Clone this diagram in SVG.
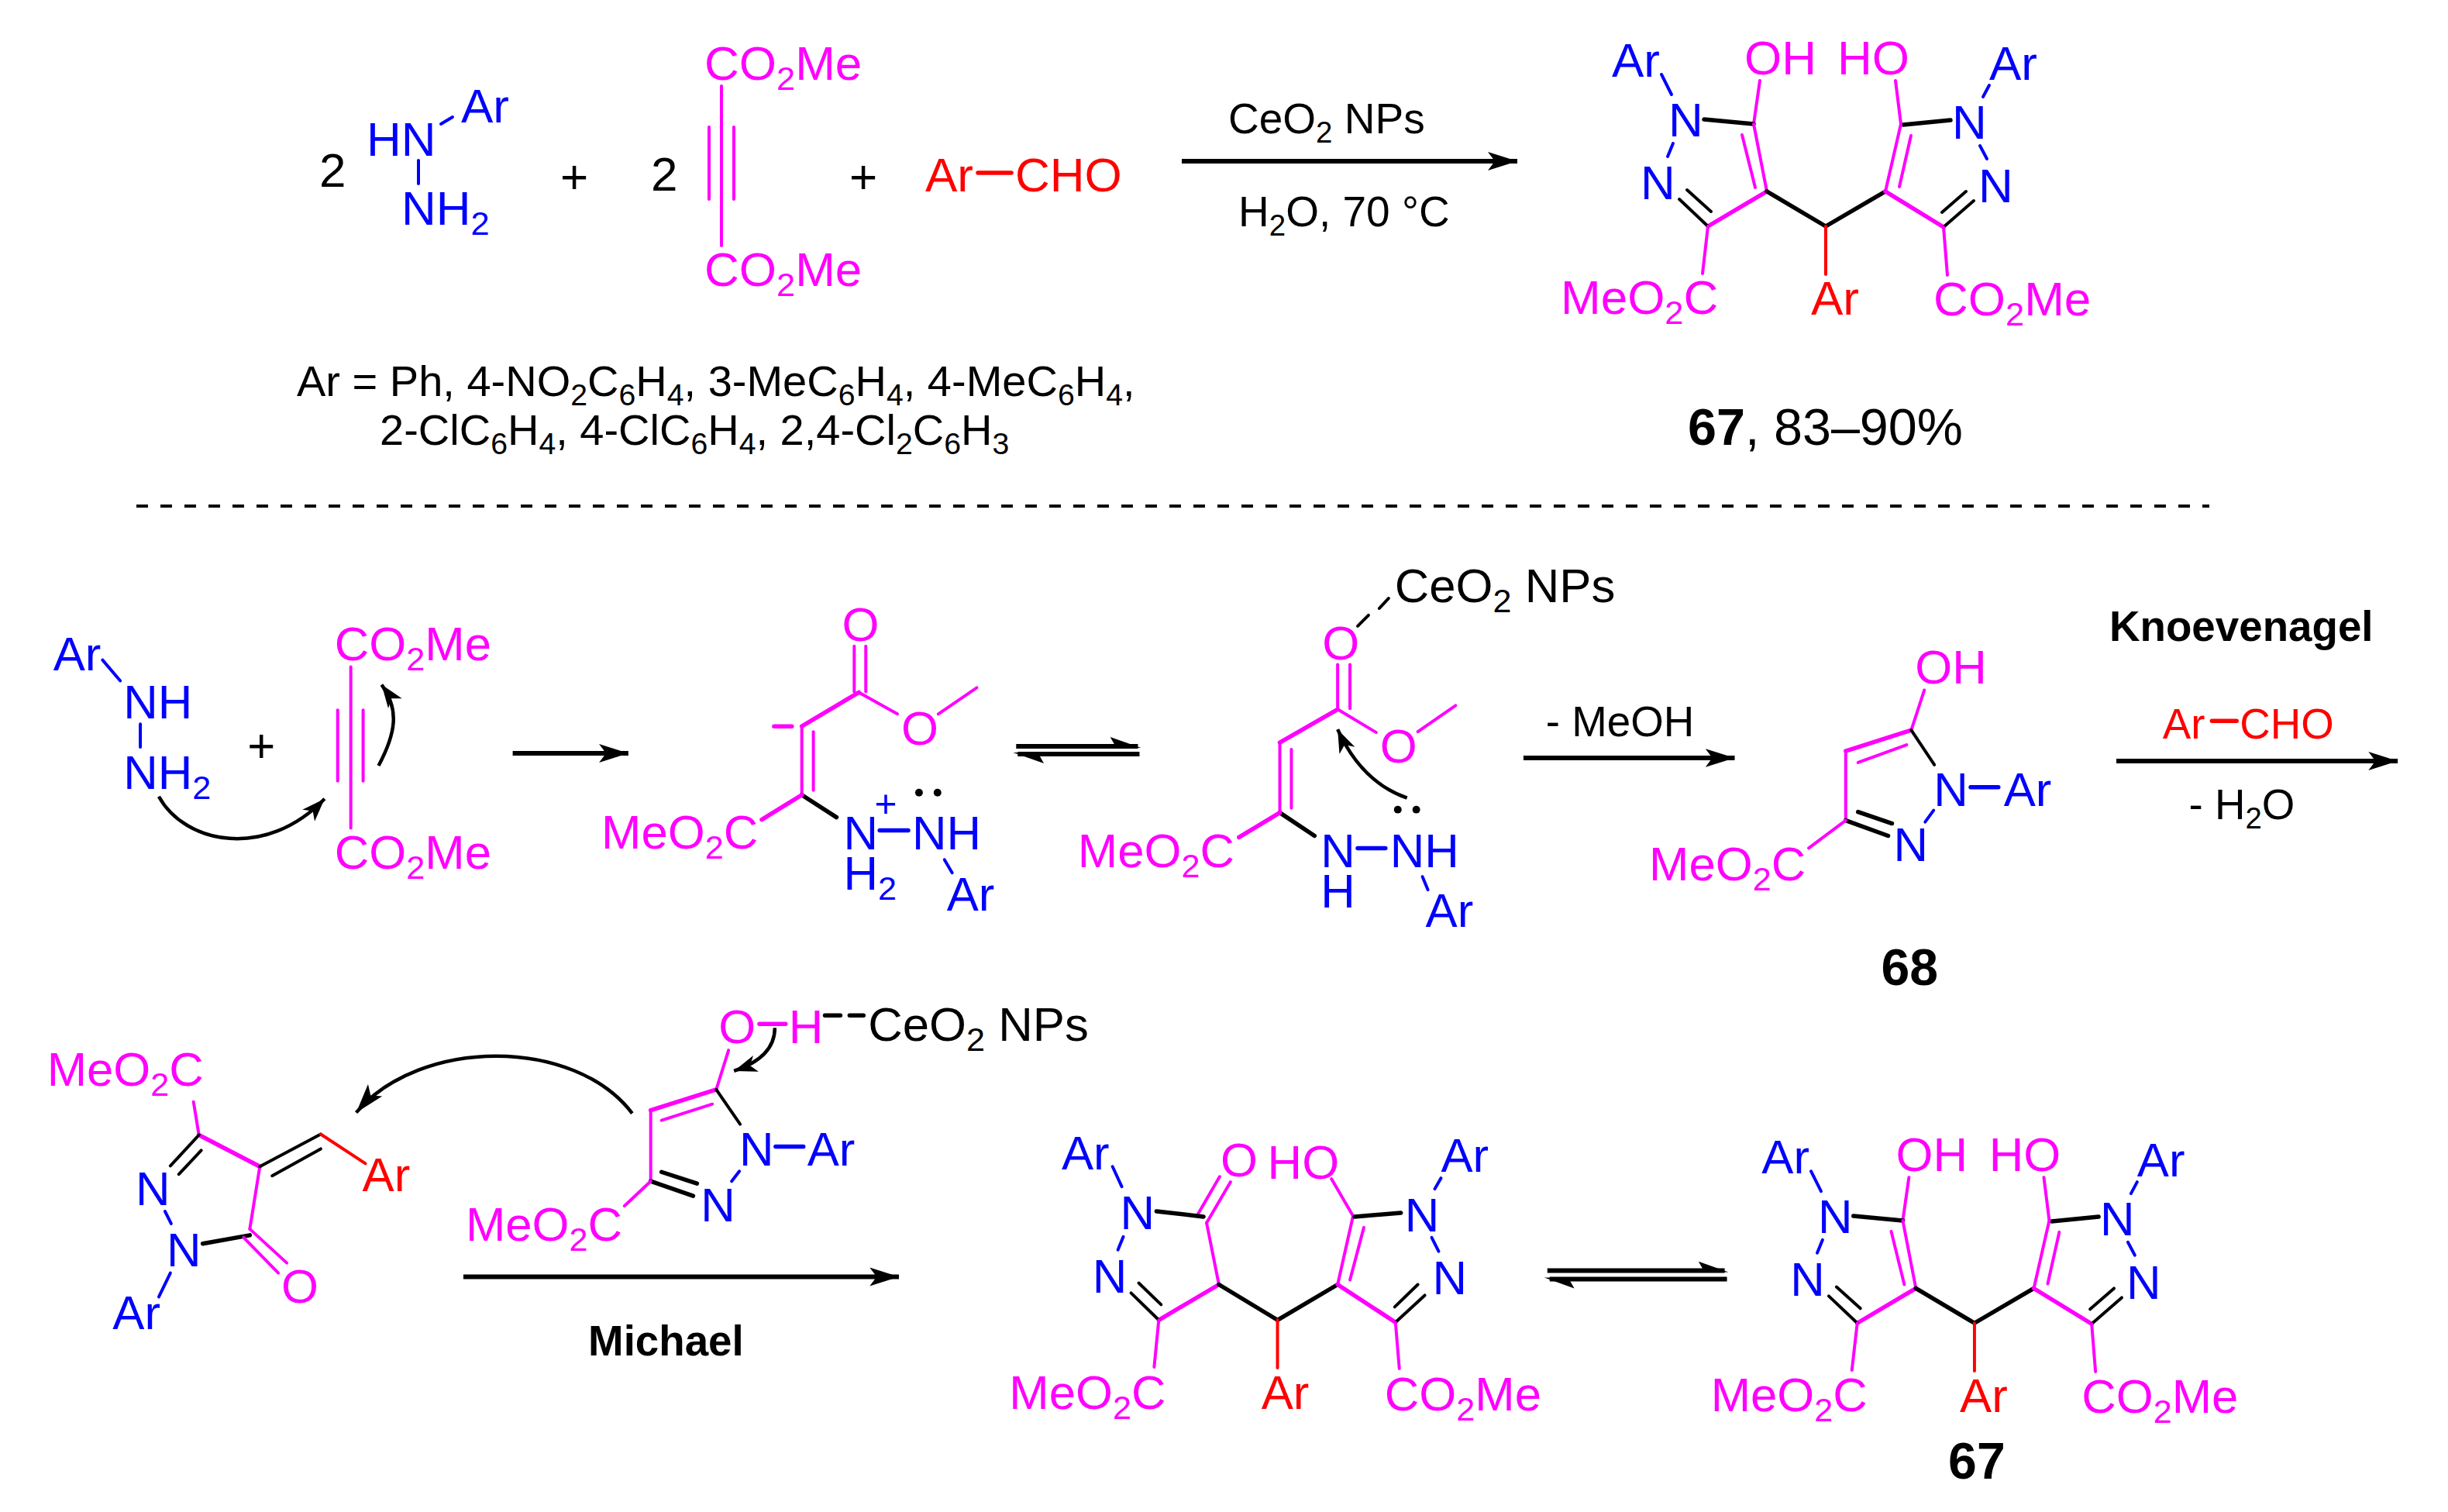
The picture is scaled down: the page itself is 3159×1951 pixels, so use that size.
<svg xmlns="http://www.w3.org/2000/svg" width="3159" height="1951" viewBox="0 0 3159 1951">
<style>
text{font-family:"Liberation Sans",Arial,sans-serif;font-size:62px;fill:#000}
.k{font-size:55px}.a{font-size:56px}.y{font-size:66.5px}
.bd{font-weight:bold}
.s{font-size:70%}
.m{fill:#f0f}.u{fill:#00f}.r{fill:#f00}
line,path.c{fill:none;stroke-width:4;stroke-linecap:round}
.lm{stroke:#f0f}.lu{stroke:#00f}.lr{stroke:#f00}.lk{stroke:#000}
.th{stroke-width:5.5!important}
.ar{stroke:#000;stroke-width:6;fill:none}
.cv{stroke:#000;stroke-width:4.5;fill:none}
</style>
<defs>
<marker id="h" markerUnits="userSpaceOnUse" markerWidth="44" markerHeight="32" refX="38" refY="16" orient="auto"><path d="M0 4L38 16L0 28L9 16Z" fill="#000"/></marker>
<marker id="hs" markerUnits="userSpaceOnUse" markerWidth="36" markerHeight="28" refX="30" refY="14" orient="auto"><path d="M0 3L30 14L0 25L8 14Z" fill="#000"/></marker>
</defs>
<rect width="3159" height="1951" fill="#fff"/>

<g id="connectors">
<line class="lk" x1="176" y1="653" x2="2851" y2="653" stroke-dasharray="15 16" style="stroke-linecap:butt"/>
<path class="ar" d="M1525 208H1958" marker-end="url(#h)"/>
<g transform="scale(.9949)">
<path class="ar" d="M665 977H815" marker-end="url(#h)"/>
<path class="ar" d="M1976 983H2250" marker-end="url(#h)"/>
<path class="ar" d="M2745 987H3110" marker-end="url(#h)"/>
<path class="ar" d="M601 1656H1166" marker-end="url(#h)"/>
<path class="ar" d="M1318 968H1476"/><polygon points="1480,970 1440,956 1448,970"/>
<path class="ar" d="M1478 978H1320"/><polygon points="1314,976 1354,990 1346,976"/>
<path class="ar" d="M2007 1648H2237"/><polygon points="2242,1650 2203,1636 2211,1650"/>
<path class="ar" d="M2240 1659H2010"/><polygon points="2003,1657 2042,1671 2034,1657"/>
<path class="cv" d="M206 1033C240 1095 345 1115 421 1036" marker-end="url(#hs)"/>
<path class="cv" d="M491 993C514 950 518 920 495 888" marker-end="url(#hs)"/>
<path class="cv" d="M1825 1035C1774 1017 1749 977 1735 946" marker-end="url(#hs)"/>
<path class="cv" d="M1005 1333C1005 1360 985 1378 952 1389" marker-end="url(#hs)"/>
<path class="cv" d="M820 1444C745 1345 545 1345 462 1443" marker-end="url(#h)"/>
</g>
</g>

<g id="reagent-hydrazine">
<text x="412" y="241">2</text>
<text class="u" x="473" y="201">HN</text>
<text class="u" x="595" y="158">Ar</text>
<text class="u" x="518" y="290">NH<tspan class="s" dy="13">2</tspan></text>
<line class="lu" x1="569" y1="160" x2="584" y2="151"/>
<line class="lu" x1="540" y1="207" x2="540" y2="237"/>
</g>
<g id="plus-1"><text x="741" y="249" text-anchor="middle">+</text></g>
<g id="reagent-alkyne">
<text x="840" y="246">2</text>
<text class="m" x="909" y="103">CO<tspan class="s" dy="13">2</tspan><tspan dy="-13">Me</tspan></text>
<text class="m" x="909" y="369">CO<tspan class="s" dy="13">2</tspan><tspan dy="-13">Me</tspan></text>
<line class="lm" x1="931" y1="111" x2="931" y2="317"/>
<line class="lm" x1="915" y1="164" x2="915" y2="257"/>
<line class="lm" x1="947" y1="164" x2="947" y2="257"/>
</g>
<g id="plus-2"><text x="1114" y="249" text-anchor="middle">+</text></g>
<g id="reagent-aldehyde">
<text class="r" x="1194" y="247">Ar</text>
<line class="lr th" x1="1262" y1="223" x2="1305" y2="223"/>
<text class="r" x="1310" y="247">CHO</text>
</g>
<g id="substituents">
<text class="a" x="383" y="511">Ar = Ph, 4-NO<tspan class="s" dy="12">2</tspan><tspan dy="-12">C</tspan><tspan class="s" dy="12">6</tspan><tspan dy="-12">H</tspan><tspan class="s" dy="12">4</tspan><tspan dy="-12">, 3-MeC</tspan><tspan class="s" dy="12">6</tspan><tspan dy="-12">H</tspan><tspan class="s" dy="12">4</tspan><tspan dy="-12">, 4-MeC</tspan><tspan class="s" dy="12">6</tspan><tspan dy="-12">H</tspan><tspan class="s" dy="12">4</tspan><tspan dy="-12">,</tspan></text>
<text class="a" x="490" y="574">2-ClC<tspan class="s" dy="12">6</tspan><tspan dy="-12">H</tspan><tspan class="s" dy="12">4</tspan><tspan dy="-12">, 4-ClC</tspan><tspan class="s" dy="12">6</tspan><tspan dy="-12">H</tspan><tspan class="s" dy="12">4</tspan><tspan dy="-12">, 2,4-Cl</tspan><tspan class="s" dy="12">2</tspan><tspan dy="-12">C</tspan><tspan class="s" dy="12">6</tspan><tspan dy="-12">H</tspan><tspan class="s" dy="12">3</tspan></text>
</g>
<g id="conditions-top">
<text class="k" x="1585" y="172">CeO<tspan class="s" dy="12">2</tspan><tspan dy="-12"> NPs</tspan></text>
<text class="k" x="1598" y="292">H<tspan class="s" dy="12">2</tspan><tspan dy="-12">O, 70 °C</tspan></text>
</g>

<g id="product-67-top">
<text class="u" x="2080" y="99">Ar</text>
<text class="u" x="2153" y="176">N</text>
<text class="u" x="2117" y="257">N</text>
<text class="m" x="2251" y="96">OH</text>
<text class="m" x="2371" y="96">HO</text>
<text class="u" x="2567" y="103">Ar</text>
<text class="u" x="2519" y="179">N</text>
<text class="u" x="2553" y="261">N</text>
<text class="m" x="2014" y="405">MeO<tspan class="s" dy="13">2</tspan><tspan dy="-13">C</tspan></text>
<text class="r" x="2337" y="406">Ar</text>
<text class="m" x="2495" y="407">CO<tspan class="s" dy="13">2</tspan><tspan dy="-13">Me</tspan></text>
<line class="lu" x1="2144" y1="96" x2="2157" y2="122"/>
<line class="lu" x1="2567" y1="110" x2="2559" y2="125"/>
<line class="lu" x1="2159" y1="185" x2="2152" y2="202"/>
<line class="lu" x1="2555" y1="188" x2="2564" y2="205"/>
<line class="lm" x1="2271" y1="104" x2="2263" y2="160"/>
<line class="lk th" x1="2199" y1="154" x2="2263" y2="160"/>
<line class="lm" x1="2263" y1="160" x2="2280" y2="247"/>
<line class="lm" x1="2248" y1="174" x2="2265" y2="242"/>
<line class="lm th" x1="2280" y1="247" x2="2204" y2="292"/>
<line class="lk" x1="2204" y1="292" x2="2167" y2="257"/>
<line class="lk" x1="2208" y1="273" x2="2177" y2="245"/>
<line class="lm" x1="2204" y1="292" x2="2197" y2="353"/>
<line class="lk th" x1="2280" y1="247" x2="2356" y2="292"/>
<line class="lk th" x1="2356" y1="292" x2="2433" y2="247"/>
<line class="lr" x1="2356" y1="292" x2="2356" y2="354"/>
<line class="lk th" x1="2517" y1="155" x2="2456" y2="161"/>
<line class="lm" x1="2446" y1="104" x2="2453" y2="160"/>
<line class="lm" x1="2453" y1="160" x2="2433" y2="247"/>
<line class="lm" x1="2466" y1="175" x2="2451" y2="241"/>
<line class="lm th" x1="2433" y1="247" x2="2508" y2="293"/>
<line class="lk" x1="2508" y1="293" x2="2547" y2="259"/>
<line class="lk" x1="2506" y1="274" x2="2537" y2="247"/>
<line class="lm" x1="2508" y1="293" x2="2513" y2="355"/>
</g>
<g id="label-67-yield"><text class="y" x="2178" y="574"><tspan class="bd">67</tspan>, 83–90%</text></g>

<g id="mechanism" transform="scale(.9949)">
<g id="mech-reagent-hydrazine">
<text class="u" x="69" y="869">Ar</text>
<line class="lu" x1="133" y1="856" x2="156" y2="883"/>
<text class="u" x="160" y="932">NH</text>
<line class="lu" x1="182" y1="939" x2="182" y2="969"/>
<text class="u" x="160" y="1023">NH<tspan class="s" dy="13">2</tspan></text>
</g>
<g id="plus-3"><text x="339" y="988" text-anchor="middle">+</text></g>
<g id="mech-reagent-alkyne" transform="translate(2 1)">
<text class="m" x="432" y="855">CO<tspan class="s" dy="13">2</tspan><tspan dy="-13">Me</tspan></text>
<text class="m" x="432" y="1126">CO<tspan class="s" dy="13">2</tspan><tspan dy="-13">Me</tspan></text>
<line class="lm" x1="453" y1="864" x2="453" y2="1073"/>
<line class="lm" x1="436" y1="920" x2="436" y2="1012"/>
<line class="lm" x1="469" y1="920" x2="469" y2="1012"/>
</g>

<g id="intermediate-1" transform="translate(5 2)">
<text class="m" x="1087" y="829">O</text>
<line class="lm" x1="1103" y1="836" x2="1103" y2="895"/>
<line class="lm" x1="1118" y1="836" x2="1118" y2="895"/>
<line class="lm" x1="1109" y1="896" x2="1159" y2="924"/>
<text class="m" x="1164" y="964">O</text>
<line class="lm" x1="1212" y1="924" x2="1262" y2="890"/>
<line class="lm th" x1="1109" y1="896" x2="1035" y2="940"/>
<line class="lm th" x1="999" y1="940" x2="1022" y2="940"/>
<line class="lm" x1="1035" y1="940" x2="1035" y2="1029"/>
<line class="lm" x1="1050" y1="947" x2="1050" y2="1023"/>
<line class="lk th" x1="1035" y1="1029" x2="1080" y2="1058"/>
<line class="lm th" x1="1035" y1="1029" x2="983" y2="1061"/>
<text class="m" x="775" y="1099">MeO<tspan class="s" dy="13">2</tspan><tspan dy="-13">C</tspan></text>
<text class="u" x="1089" y="1100">N</text>
<text class="u" x="1144" y="1057" text-anchor="middle" style="font-size:50px">+</text>
<line class="lu th" x1="1136" y1="1075" x2="1173" y2="1075"/>
<text class="u" x="1178" y="1100">NH</text>
<text class="u" x="1089" y="1152">H<tspan class="s" dy="13">2</tspan></text>
<circle cx="1187" cy="1026" r="5"/><circle cx="1211" cy="1026" r="5"/>
<line class="lu" x1="1220" y1="1113" x2="1230" y2="1130"/>
<text class="u" x="1223" y="1179">Ar</text>
</g>

<g id="intermediate-2" transform="translate(4 3)">
<text x="1805" y="778">CeO<tspan class="s" dy="13">2</tspan><tspan dy="-13"> NPs</tspan></text>
<line class="lk" x1="1797" y1="773" x2="1785" y2="786"/>
<line class="lk" x1="1771" y1="795" x2="1757" y2="809"/>
<text class="m" x="1711" y="852">O</text>
<line class="lm" x1="1731" y1="859" x2="1731" y2="916"/>
<line class="lm" x1="1747" y1="859" x2="1747" y2="916"/>
<line class="lm" x1="1731" y1="917" x2="1781" y2="947"/>
<text class="m" x="1786" y="986">O</text>
<line class="lm" x1="1835" y1="946" x2="1884" y2="912"/>
<line class="lm th" x1="1731" y1="917" x2="1656" y2="960"/>
<line class="lm" x1="1656" y1="960" x2="1656" y2="1051"/>
<line class="lm" x1="1671" y1="969" x2="1671" y2="1045"/>
<line class="lk th" x1="1656" y1="1051" x2="1701" y2="1081"/>
<line class="lm th" x1="1656" y1="1051" x2="1603" y2="1083"/>
<text class="m" x="1394" y="1122">MeO<tspan class="s" dy="13">2</tspan><tspan dy="-13">C</tspan></text>
<text class="u" x="1709" y="1122">N</text>
<line class="lu th" x1="1757" y1="1097" x2="1793" y2="1097"/>
<text class="u" x="1799" y="1122">NH</text>
<text class="u" x="1709" y="1174">H</text>
<line class="lu" x1="1841" y1="1134" x2="1848" y2="1151"/>
<text class="u" x="1845" y="1199">Ar</text>
<circle cx="1809" cy="1047" r="5"/><circle cx="1833" cy="1047" r="5"/>
</g>
<g id="label-meoh"><text class="k" x="2005" y="955">- MeOH</text></g>

<g id="compound-68" transform="translate(2 2)">
<text class="m" x="2482" y="885">OH</text>
<line class="lm" x1="2494" y1="893" x2="2477" y2="945"/>
<line class="lm th" x1="2477" y1="945" x2="2392" y2="972"/>
<line class="lm" x1="2471" y1="964" x2="2408" y2="987"/>
<line class="lm" x1="2392" y1="972" x2="2392" y2="1062"/>
<line class="lk" x1="2477" y1="945" x2="2507" y2="990"/>
<text class="u" x="2506" y="1043">N</text>
<line class="lu th" x1="2554" y1="1019" x2="2590" y2="1019"/>
<text class="u" x="2597" y="1043">Ar</text>
<line class="lu" x1="2506" y1="1049" x2="2495" y2="1064"/>
<text class="u" x="2454" y="1115">N</text>
<line class="lk th" x1="2392" y1="1062" x2="2447" y2="1082"/>
<line class="lk th" x1="2408" y1="1051" x2="2452" y2="1066"/>
<line class="lm" x1="2392" y1="1062" x2="2344" y2="1098"/>
<text class="m" x="2137" y="1140">MeO<tspan class="s" dy="13">2</tspan><tspan dy="-13">C</tspan></text>
<text class="y bd" x="2475" y="1276" text-anchor="middle">68</text>
</g>
<g id="conditions-knoevenagel" transform="translate(0 2)">
<text class="k bd" x="2736" y="829">Knoevenagel</text>
<text class="k r" x="2805" y="956">Ar</text>
<line class="lr th" x1="2869" y1="933" x2="2901" y2="933"/>
<text class="k r" x="2905" y="956">CHO</text>
<text class="k" x="2839" y="1060">- H<tspan class="s" dy="12">2</tspan><tspan dy="-12">O</tspan></text>
</g>

<g id="michael-acceptor" transform="translate(0 1)">
<text class="m" x="61" y="1407">MeO<tspan class="s" dy="13">2</tspan><tspan dy="-13">C</tspan></text>
<line class="lm" x1="251" y1="1428" x2="258" y2="1471"/>
<line class="lm th" x1="258" y1="1471" x2="337" y2="1512"/>
<line class="lm" x1="337" y1="1512" x2="324" y2="1593"/>
<line class="lk" x1="337" y1="1512" x2="416" y2="1470"/>
<line class="lk" x1="353" y1="1524" x2="416" y2="1489"/>
<line class="lr" x1="416" y1="1470" x2="474" y2="1508"/>
<text class="r" x="470" y="1544">Ar</text>
<line class="lk" x1="258" y1="1471" x2="221" y2="1511"/>
<line class="lk" x1="261" y1="1491" x2="232" y2="1522"/>
<text class="u" x="176" y="1562">N</text>
<line class="lu" x1="214" y1="1570" x2="222" y2="1586"/>
<text class="u" x="216" y="1641">N</text>
<line class="lk th" x1="263" y1="1612" x2="324" y2="1601"/>
<line class="lm" x1="324" y1="1593" x2="372" y2="1637"/>
<line class="lm" x1="316" y1="1604" x2="361" y2="1650"/>
<text class="m" x="365" y="1689">O</text>
<line class="lu" x1="221" y1="1650" x2="206" y2="1681"/>
<text class="u" x="146" y="1723">Ar</text>
</g>

<g id="michael-donor" transform="translate(-2 1)">
<text class="m" x="934" y="1352">O</text>
<line class="lm th" x1="987" y1="1327" x2="1021" y2="1327"/>
<text class="m" x="1025" y="1352">H</text>
<line class="lk th" x1="1072" y1="1316" x2="1092" y2="1316"/>
<line class="lk th" x1="1104" y1="1316" x2="1122" y2="1316"/>
<text x="1128" y="1349">CeO<tspan class="s" dy="13">2</tspan><tspan dy="-13"> NPs</tspan></text>
<line class="lm" x1="947" y1="1361" x2="931" y2="1412"/>
<line class="lm th" x1="931" y1="1412" x2="846" y2="1439"/>
<line class="lm" x1="926" y1="1431" x2="860" y2="1452"/>
<line class="lm" x1="846" y1="1439" x2="846" y2="1531"/>
<line class="lk" x1="931" y1="1412" x2="962" y2="1457"/>
<text class="u" x="961" y="1511">N</text>
<line class="lu th" x1="1008" y1="1486" x2="1044" y2="1486"/>
<text class="u" x="1049" y="1511">Ar</text>
<line class="lu" x1="961" y1="1518" x2="951" y2="1531"/>
<text class="u" x="911" y="1583">N</text>
<line class="lk th" x1="846" y1="1531" x2="901" y2="1550"/>
<line class="lk th" x1="860" y1="1519" x2="906" y2="1534"/>
<line class="lm" x1="846" y1="1531" x2="812" y2="1563"/>
<text class="m" x="606" y="1608">MeO<tspan class="s" dy="13">2</tspan><tspan dy="-13">C</tspan></text>
</g>
<g id="label-michael"><text class="k bd" x="763" y="1758">Michael</text></g>

<g id="keto-adduct" transform="translate(6 2)">
<text class="u" x="1371" y="1515">Ar</text>
<line class="lu" x1="1437" y1="1511" x2="1449" y2="1537"/>
<text class="u" x="1447" y="1592">N</text>
<line class="lu" x1="1451" y1="1602" x2="1444" y2="1619"/>
<text class="u" x="1411" y="1675">N</text>
<text class="m" x="1577" y="1524">O</text>
<text class="m" x="1638" y="1527">HO</text>
<text class="u" x="1863" y="1518">Ar</text>
<line class="lu" x1="1863" y1="1526" x2="1855" y2="1540"/>
<text class="u" x="1816" y="1595">N</text>
<line class="lu" x1="1851" y1="1603" x2="1860" y2="1621"/>
<text class="u" x="1852" y="1677">N</text>
<line class="lm" x1="1576" y1="1524" x2="1547" y2="1574"/>
<line class="lm" x1="1590" y1="1531" x2="1559" y2="1584"/>
<line class="lk th" x1="1494" y1="1569" x2="1555" y2="1576"/>
<line class="lm" x1="1559" y1="1584" x2="1575" y2="1664"/>
<line class="lm th" x1="1575" y1="1664" x2="1497" y2="1710"/>
<line class="lk" x1="1497" y1="1710" x2="1461" y2="1675"/>
<line class="lk" x1="1500" y1="1690" x2="1471" y2="1662"/>
<line class="lm" x1="1497" y1="1710" x2="1491" y2="1771"/>
<line class="lk th" x1="1575" y1="1664" x2="1651" y2="1710"/>
<line class="lk th" x1="1651" y1="1710" x2="1729" y2="1664"/>
<line class="lr" x1="1651" y1="1710" x2="1651" y2="1772"/>
<line class="lm" x1="1729" y1="1664" x2="1749" y2="1575"/>
<line class="lm" x1="1745" y1="1658" x2="1763" y2="1590"/>
<line class="lm" x1="1721" y1="1527" x2="1749" y2="1575"/>
<line class="lk th" x1="1811" y1="1571" x2="1751" y2="1576"/>
<line class="lm th" x1="1729" y1="1664" x2="1804" y2="1713"/>
<line class="lk" x1="1804" y1="1713" x2="1842" y2="1678"/>
<line class="lk" x1="1803" y1="1693" x2="1833" y2="1664"/>
<line class="lm" x1="1804" y1="1713" x2="1809" y2="1773"/>
<text class="m" x="1303" y="1825">MeO<tspan class="s" dy="13">2</tspan><tspan dy="-13">C</tspan></text>
<text class="r" x="1630" y="1825">Ar</text>
<text class="m" x="1790" y="1827">CO<tspan class="s" dy="13">2</tspan><tspan dy="-13">Me</tspan></text>
</g>

<g id="product-67-bottom" transform="translate(205 1422)">
<text class="u" x="2080" y="100">Ar</text>
<text class="u" x="2153" y="177">N</text>
<text class="u" x="2117" y="259">N</text>
<text class="m" x="2254" y="97">OH</text>
<text class="m" x="2375" y="97">HO</text>
<text class="u" x="2567" y="104">Ar</text>
<text class="u" x="2519" y="180">N</text>
<text class="u" x="2553" y="263">N</text>
<text class="m" x="2014" y="408">MeO<tspan class="s" dy="13">2</tspan><tspan dy="-13">C</tspan></text>
<text class="r" x="2337" y="409">Ar</text>
<text class="m" x="2495" y="410">CO<tspan class="s" dy="13">2</tspan><tspan dy="-13">Me</tspan></text>
<line class="lu" x1="2144" y1="97" x2="2157" y2="123"/>
<line class="lu" x1="2567" y1="111" x2="2559" y2="126"/>
<line class="lu" x1="2159" y1="186" x2="2152" y2="203"/>
<line class="lu" x1="2555" y1="189" x2="2564" y2="206"/>
<line class="lm" x1="2271" y1="105" x2="2263" y2="161"/>
<line class="lk th" x1="2199" y1="155" x2="2263" y2="161"/>
<line class="lm" x1="2263" y1="161" x2="2280" y2="249"/>
<line class="lm" x1="2248" y1="175" x2="2265" y2="244"/>
<line class="lm th" x1="2280" y1="249" x2="2204" y2="294"/>
<line class="lk" x1="2204" y1="294" x2="2167" y2="259"/>
<line class="lk" x1="2208" y1="275" x2="2177" y2="247"/>
<line class="lm" x1="2204" y1="294" x2="2197" y2="355"/>
<line class="lk th" x1="2280" y1="249" x2="2356" y2="294"/>
<line class="lk th" x1="2356" y1="294" x2="2433" y2="249"/>
<line class="lr" x1="2356" y1="294" x2="2356" y2="356"/>
<line class="lk th" x1="2517" y1="156" x2="2456" y2="162"/>
<line class="lm" x1="2446" y1="105" x2="2453" y2="161"/>
<line class="lm" x1="2453" y1="161" x2="2433" y2="249"/>
<line class="lm" x1="2466" y1="176" x2="2451" y2="243"/>
<line class="lm th" x1="2433" y1="249" x2="2508" y2="295"/>
<line class="lk" x1="2508" y1="295" x2="2547" y2="261"/>
<line class="lk" x1="2506" y1="276" x2="2537" y2="249"/>
<line class="lm" x1="2508" y1="295" x2="2513" y2="357"/>
</g>
<g id="label-67"><text class="y bd" x="2564" y="1918" text-anchor="middle">67</text></g>
</g>
</svg>
